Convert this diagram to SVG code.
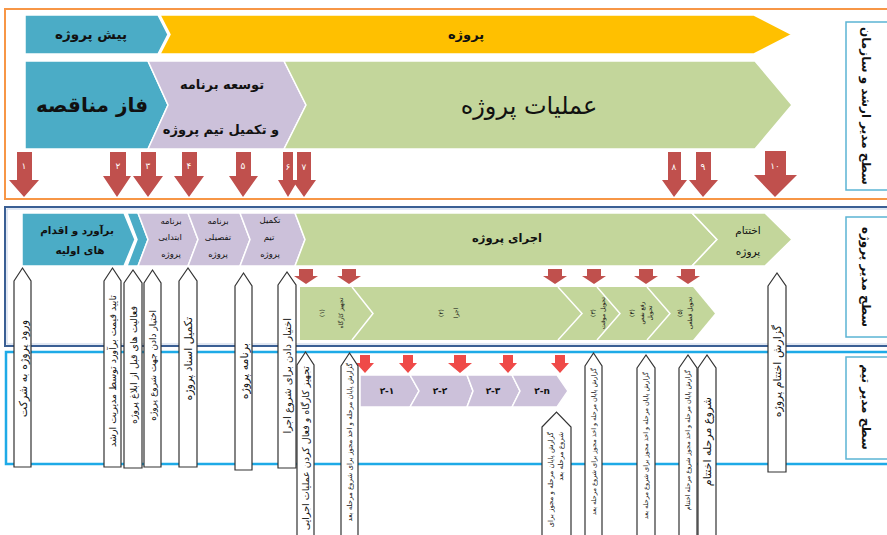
<svg xmlns="http://www.w3.org/2000/svg" width="887" height="535" viewBox="0 0 887 535">
  <defs>
    <style>
      text { font-family: "DejaVu Sans", "Noto Sans", sans-serif; fill: #111; }
      .b { font-weight: bold; }
      .teal { fill: #4BACC6; stroke: #fff; stroke-width: 1.5; }
      .yel { fill: #FFC000; stroke: #fff; stroke-width: 1.5; }
      .lav { fill: #CCC1DA; stroke: #fff; stroke-width: 1.5; }
      .grn { fill: #C3D69B; stroke: #fff; stroke-width: 1.5; }
      .sep { fill: none; stroke: #fff; stroke-width: 1.5; }
      .dn { fill: #C0504D; }
      .dn2 { fill: #EF4A48; }
      .num { fill: #fff; font-size: 9px; text-anchor: middle; }
      .up { fill: #fff; stroke: #333; stroke-width: 1.2; }
      .side { fill: #fff; stroke: #5BB4D4; stroke-width: 1.5; }
      .c { text-anchor: middle; }
      .e { text-anchor: end; }
    </style>
  </defs>

  <!-- level frames -->
  <g id="frames">
    <rect x="5" y="9" width="900" height="190" fill="none" stroke="#F79646" stroke-width="2"/>
    <rect x="5" y="207" width="900" height="139" fill="none" stroke="#3A5F94" stroke-width="2"/>
    <rect x="7" y="209" width="900" height="135" fill="none" stroke="#B4C6E0" stroke-width="0.8"/>
    <rect x="6" y="352" width="900" height="112" fill="none" stroke="#1EAAE7" stroke-width="2.5"/>
  </g>

  <!-- level captions -->
  <g id="level-senior">
    <rect class="side" x="846" y="22" width="50" height="168"/>
    <text class="b c" font-size="12" transform="translate(862,106) rotate(90)">سطح مدیر ارشد و سازمان</text>
  </g>
  <g id="level-pm">
    <rect class="side" x="846" y="217" width="50" height="120"/>
    <text class="b c" font-size="12" transform="translate(862,277) rotate(90)">سطح مدیر پروژه</text>
  </g>
  <g id="level-team">
    <rect class="side" x="846" y="357" width="50" height="102"/>
    <text class="b c" font-size="12" transform="translate(862,407) rotate(90)">سطح مدیر تیم</text>
  </g>

  <!-- top level phases -->
  <g id="pre-project">
    <polygon class="teal" points="25,15 158,15 168,34.5 158,54 25,54"/>
    <text class="b c" x="91" y="39" font-size="13.5">پیش پروژه</text>
  </g>
  <g id="project">
    <polygon class="yel" points="160,15 754,15 792,34.5 754,54 160,54 170,34.5"/>
    <text class="b c" x="466" y="39" font-size="13">پروژه</text>
  </g>
  <g id="tender">
    <polygon class="teal" points="25,61 148,61 168,105 148,149 25,149"/>
    <text class="b c" x="92" y="112" font-size="20">فاز مناقصه</text>
  </g>
  <g id="plan-team">
    <polygon class="lav" points="148,61 284,61 306,105 284,149 148,149 168,105"/>
    <text class="b c" x="222" y="89" font-size="13">توسعه برنامه</text>
    <text class="b c" x="221" y="134" font-size="13">و تکمیل تیم پروژه</text>
  </g>
  <g id="operations">
    <polygon class="grn" points="284,61 755,61 792,105 755,149 284,149 306,105"/>
    <text class="c" x="529" y="114" font-size="24">عملیات پروژه</text>
  </g>

  <!-- project manager level phases -->
  <g id="estimate">
    <polygon class="teal" points="22,213 124,213 135,239.5 124,266 22,266"/>
    <polygon class="teal" points="127,213 138,213 148,239.5 138,266 127,266 137,239.5"/>
    <text class="b c" x="77" y="234" font-size="10.5">برآورد و اقدام</text>
    <text class="b c" x="80" y="254" font-size="10.5">های اولیه</text>
  </g>
  <g id="initial-plan">
    <polygon class="lav" points="138,213 188,213 198,239.5 188,266 138,266 148,239.5"/>
    <text class="c" x="171" y="224" font-size="8.5">برنامه</text>
    <text class="c" x="170" y="240" font-size="8.5">ابتدایی</text>
    <text class="c" x="171" y="257" font-size="8.5">پروژه</text>
  </g>
  <g id="detail-plan">
    <polygon class="lav" points="188,213 240,213 250,239.5 240,266 188,266 198,239.5"/>
    <text class="c" x="218" y="224" font-size="8.5">برنامه</text>
    <text class="c" x="218" y="240" font-size="8.5">تفصیلی</text>
    <text class="c" x="218" y="257" font-size="8.5">پروژه</text>
  </g>
  <g id="team-complete">
    <polygon class="lav" points="240,213 295,213 305,239.5 295,266 240,266 250,239.5"/>
    <text class="c" x="270" y="223" font-size="8.5">تکمیل</text>
    <text class="c" x="269" y="240" font-size="8.5">تیم</text>
    <text class="c" x="270" y="257" font-size="8.5">پروژه</text>
  </g>
  <g id="execution">
    <polygon class="grn" points="295,213 692,213 717,239.5 692,266 295,266 305,239.5"/>
    <text class="b c" x="507" y="242" font-size="11.5">اجرای پروژه</text>
  </g>
  <g id="closing">
    <polygon class="grn" points="692,213 765,213 792,239.5 765,266 692,266 717,239.5"/>
    <text class="c" x="748" y="234" font-size="10.5">اختتام</text>
    <text class="c" x="748" y="255" font-size="10.5">پروژه</text>
  </g>

  <!-- execution stages -->
  <g id="stages">
    <polygon points="300,287 693,287 715,313.5 693,340 300,340" fill="#C3D69B"/>
    <polyline class="sep" points="352,287 373,313.5 352,340"/>
    <polyline class="sep" points="558,287 582,313.5 558,340"/>
    <polyline class="sep" points="597,287 620,313.5 597,340"/>
    <polyline class="sep" points="647,287 670,313.5 647,340"/>
    <text class="c" font-size="6" transform="translate(324,313) rotate(-90)">(۱)</text>
    <text class="c" font-size="6" transform="translate(343,313) rotate(-90)">تجهیز کارگاه</text>
    <text class="c" font-size="6" transform="translate(443,313) rotate(-90)">(۲)</text>
    <text class="c" font-size="6" transform="translate(458,313) rotate(-90)">اجرا</text>
    <text class="c" font-size="6" transform="translate(595,313) rotate(-90)">(۳)</text>
    <text class="c" font-size="6" transform="translate(605,313) rotate(-90)">تحویل موقت</text>
    <text class="c" font-size="6" transform="translate(634,313) rotate(-90)">(۴)</text>
    <text class="c" font-size="6" transform="translate(644,313) rotate(-90)">رفع نقص</text>
    <text class="c" font-size="6" transform="translate(652,313) rotate(-90)">تحویل</text>
    <text class="c" font-size="6" transform="translate(682,313) rotate(-90)">(۵)</text>
    <text class="c" font-size="6" transform="translate(692,313) rotate(-90)">تحویل قطعی</text>
  </g>

  <!-- team level sub-stages -->
  <g id="sub-1">
    <polygon class="lav" points="360,375 410,375 419,391 410,407 360,407"/>
    <text class="b c" x="387" y="394" font-size="9">۲-۱</text>
  </g>
  <g id="sub-2">
    <polygon class="lav" points="410,375 467,375 473,391 467,407 410,407 419,391"/>
    <text class="b c" x="440" y="394" font-size="9">۲-۲</text>
  </g>
  <g id="sub-3">
    <polygon class="lav" points="467,375 512,375 520,391 512,407 467,407 473,391"/>
    <text class="b c" x="493" y="394" font-size="9">۲-۳</text>
  </g>
  <g id="sub-n">
    <polygon class="lav" points="512,375 557,375 568,391 557,407 512,407 520,391"/>
    <text class="b c" x="542" y="394" font-size="9">۲-n</text>
  </g>

  <!-- connectors: numbered milestones, hand-offs and reports -->
  <g id="connectors">
    <g id="milestones">
      <path class="dn" d="M17,152H32V180H39L24,197L9,180H17Z"/>
      <path class="dn" d="M110,152H126V176H131L117,197L103,176H110Z"/>
      <path class="dn" d="M141,152H156V176H163L148,197L133,176H141Z"/>
      <path class="dn" d="M182,152H197V176H204L189,197L174,176H182Z"/>
      <path class="dn" d="M236,152H251V176H258L243,197L229,176H236Z"/>
      <path class="dn" d="M283,152H293V180H298L288,197L278,180H283Z"/>
      <path class="dn" d="M297,152H311V180H316L304,197L292,180H297Z"/>
      <path class="dn" d="M668,152H681V180H687L674,197L662,180H668Z"/>
      <path class="dn" d="M696,152H711V180H718L703,197L689,180H696Z"/>
      <path class="dn" d="M765,151H786V175H797L775,197L754,175H765Z"/>
      <text class="num" x="24" y="169">۱</text>
      <text class="num" x="118" y="169">۲</text>
      <text class="num" x="148" y="169">۳</text>
      <text class="num" x="189" y="169">۴</text>
      <text class="num" x="243" y="169">۵</text>
      <text class="num" x="288" y="170" font-size="8">۶</text>
      <text class="num" x="304" y="170" font-size="8">۷</text>
      <text class="num" x="674" y="170">۸</text>
      <text class="num" x="703" y="170">۹</text>
      <text class="num" x="775" y="169">۱۰</text>
    </g>
    <g id="stage-starts">
      <path class="dn" d="M299,269H313V276H318L306,284L294,276H299Z"/>
      <path class="dn" d="M342,269H356V276H361L349,284L337,276H342Z"/>
      <path class="dn" d="M548,269H562V276H567L555,284L543,276H548Z"/>
      <path class="dn" d="M587,269H601V276H606L594,284L582,276H587Z"/>
      <path class="dn" d="M639,269H653V276H658L646,284L634,276H639Z"/>
      <path class="dn" d="M681,269H695V276H700L688,284L676,276H681Z"/>
    </g>
    <g id="sub-starts">
      <path class="dn2" d="M360,355H370V363H374L365,373L356,363H360Z"/>
      <path class="dn2" d="M403,355H413V363H417L408,373L399,363H403Z"/>
      <path class="dn2" d="M454,355H466V363H472L460,373L448,363H454Z"/>
      <path class="dn2" d="M503,355H513V363H517L508,373L499,363H503Z"/>
      <path class="dn2" d="M555,355H565V363H569L560,373L551,363H555Z"/>
    </g>
    <g id="reports">
      <path class="up" d="M14,281L22.5,268L31,281V467H14Z"/>
      <text font-size="11" class="e" transform="translate(26.5,320) rotate(-90)">ورود پروژه به شرکت</text>
      <path class="up" d="M104,281L112.5,268L121,281V467H104Z"/>
      <text font-size="9.5" class="e" transform="translate(116,295) rotate(-90)">تایید قیمت برآورد توسط مدیریت ارشد</text>
      <path class="up" d="M124,283L133,270L142,283V468H124Z"/>
      <text font-size="9.5" class="e" transform="translate(136.5,306) rotate(-90)">فعالیت های قبل از ابلاغ پروژه</text>
      <path class="up" d="M144,283L152.5,270L161,283V467H144Z"/>
      <text font-size="9" class="e" transform="translate(155.5,310) rotate(-90)">اختیار دادن جهت شروع پروژه</text>
      <path class="up" d="M179,281L188,268L197,281V467H179Z"/>
      <text font-size="11" class="e" transform="translate(192,317) rotate(-90)">تکمیل اسناد پروژه</text>
      <path class="up" d="M235,286L243.5,273L252,286V470H235Z"/>
      <text font-size="11" class="e" transform="translate(247.5,343) rotate(-90)">برنامه  پروژه</text>
      <path class="up" d="M278,285L287,272L296,285V468H278Z"/>
      <text font-size="10" class="e" transform="translate(290.5,318) rotate(-90)">اختیار دادن برای شروع اجرا</text>
      <path class="up" d="M297,365L305.5,352L314,365V545H297Z"/>
      <text font-size="9.5" class="e" transform="translate(309,366) rotate(-90)">تجهیز کارگاه و فعال کردن عملیات اجرایی</text>
      <path class="up" d="M341,366L349.5,353L358,366V545H341Z"/>
      <text font-size="7" class="e" transform="translate(352,363) rotate(-90)">گزارش پایان مرحله و اخذ مجوز برای شروع مرحله بعد</text>
      <path class="up" d="M542,427L556.5,412L571,427V545H542Z"/>
      <text font-size="7" class="e" transform="translate(553,432) rotate(-90)">گزارش پایان مرحله و مجوز برای</text>
      <text font-size="7" class="e" transform="translate(563,432) rotate(-90)">شروع مرحله بعد</text>
      <path class="up" d="M585,366L593.5,353L602,366V545H585Z"/>
      <text font-size="6.5" class="e" transform="translate(596,368) rotate(-90)">گزارش پایان مرحله و اخذ مجوز برای شروع مرحله بعد</text>
      <path class="up" d="M637,368L646,355L655,368V545H637Z"/>
      <text font-size="6.5" class="e" transform="translate(648,372) rotate(-90)">گزارش پایان مرحله و اخذ مجوز برای شروع مرحله بعد</text>
      <path class="up" d="M679,368L688,355L697,368V545H679Z"/>
      <text font-size="6.5" class="e" transform="translate(690,370) rotate(-90)">گزارش پایان مرحله و اخذ مجوز شروع مرحله اختتام</text>
      <path class="up" d="M698,368L707,355L716,368V545H698Z"/>
      <text font-size="11" class="e" transform="translate(711,397) rotate(-90)">شروع مرحله اختتام</text>
      <path class="up" d="M768,286L777,273L786,286V472H768Z"/>
      <text font-size="11" class="e" transform="translate(781,325) rotate(-90)">گزارش اختتام پروژه</text>
    </g>
  </g>
</svg>
